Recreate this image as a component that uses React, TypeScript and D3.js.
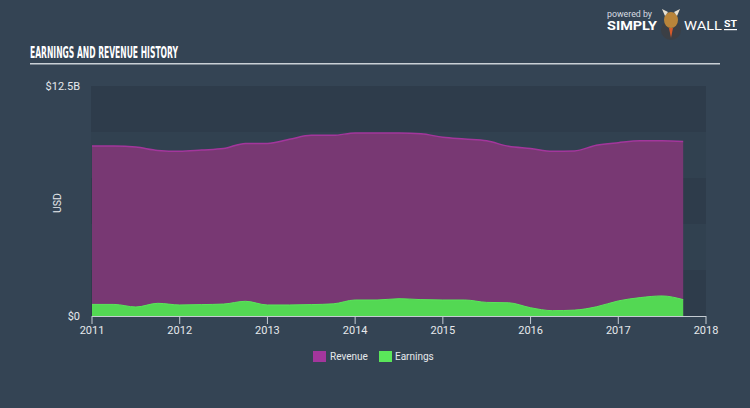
import React from "react";
import * as d3 from "d3";

const quarters: number[] = [
  2011.0, 2011.25, 2011.5, 2011.75, 2012.0, 2012.25, 2012.5, 2012.75,
  2013.0, 2013.25, 2013.5, 2013.75, 2014.0, 2014.25, 2014.5, 2014.75,
  2015.0, 2015.25, 2015.5, 2015.75, 2016.0, 2016.25, 2016.5, 2016.75,
  2017.0, 2017.25, 2017.5, 2017.74,
];
const revenue: number[] = [
  9.24, 9.24, 9.18, 9.0, 8.95, 9.02, 9.1, 9.38,
  9.38, 9.6, 9.82, 9.82, 9.95, 9.95, 9.95, 9.9,
  9.72, 9.62, 9.52, 9.22, 9.1, 8.95, 8.97, 9.28,
  9.42, 9.52, 9.52, 9.49,
];
const earnings: number[] = [
  0.63, 0.63, 0.49, 0.69, 0.6, 0.62, 0.65, 0.8,
  0.6, 0.6, 0.62, 0.66, 0.87, 0.87, 0.94, 0.89,
  0.87, 0.87, 0.74, 0.72, 0.45, 0.29, 0.32, 0.5,
  0.82, 1.0, 1.09, 0.89,
];
const yearTicks: number[] = [2011, 2012, 2013, 2014, 2015, 2016, 2017, 2018];
const yTickLabels: { v: number; label: string }[] = [
  { v: 0, label: "$0" },
  { v: 12.5, label: "$12.5B" },
];
const bandEdges: number[] = [0, 2.5, 5, 7.5, 10, 12.5];

export default function App() {
  const W = 750, H = 408;
  const x = d3.scaleLinear().domain([2011, 2018]).range([92, 706]);
  const y = d3.scaleLinear().domain([0, 12.5]).range([316, 86]);

  const revData = quarters.map((q, i) => ({ q, v: revenue[i] }));
  const earnData = quarters.map((q, i) => ({ q, v: earnings[i] }));

  const area = d3
    .area<{ q: number; v: number }>()
    .x((d) => x(d.q))
    .y0(y(0))
    .y1((d) => y(d.v))
    .curve(d3.curveMonotoneX);
  const line = d3
    .line<{ q: number; v: number }>()
    .x((d) => x(d.q))
    .y((d) => y(d.v))
    .curve(d3.curveMonotoneX);

  const font = "Roboto, 'Open Sans', sans-serif";

  return (
    <svg
      width={W}
      height={H}
      style={{ position: "absolute", left: 0, top: 0, display: "block" }}
    >
      <rect x={0} y={0} width={W} height={H} fill="#344454" />
      {/* logo */}
      <text x={607} y={17} fill="#d8dde2" fontSize={8.5} fontFamily={font} textLength={45} lengthAdjust="spacingAndGlyphs">
        powered by
      </text>
      <text x={607} y={30} fill="#ffffff" fontSize={12} fontWeight="bold" fontFamily={font} textLength={50} lengthAdjust="spacingAndGlyphs">
        SIMPLY
      </text>
      <g>
        <ellipse cx={671} cy={30} rx={10} ry={10} fill="#3b3f45" />
        <ellipse cx={671} cy={20} rx={7} ry={8} fill="#b8843a" />
        <path d="M662 9 L665 16 L668 12 Z M680 9 L677 16 L674 12 Z" fill="#e8e0d0" />
        <path d="M669 28 L671 38 L673 28 Z" fill="#d65a2a" />
      </g>
      <text x={684} y={30} fill="#ffffff" fontSize={12} fontFamily={font} textLength={38} lengthAdjust="spacingAndGlyphs">
        WALL
      </text>
      <text x={724} y={27} fill="#ffffff" fontSize={9.5} fontWeight="bold" fontFamily={font} textLength={13} lengthAdjust="spacingAndGlyphs">
        ST
      </text>
      <rect x={724} y={29} width={13} height={1.2} fill="#ffffff" />

      {/* title */}
      <text
        x={30}
        y={58}
        fill="#ffffff"
        fontSize={15}
        fontWeight="bold"
        fontFamily="'Liberation Sans Narrow', 'DejaVu Sans Condensed', sans-serif"
        textLength={148}
        lengthAdjust="spacingAndGlyphs"
      >
        EARNINGS AND REVENUE HISTORY
      </text>
      <rect x={30} y={63} width={690} height={1.5} fill="#c9d0d6" />

      {/* plot bands */}
      {bandEdges.slice(0, -1).map((b, i) => (
        <rect
          key={i}
          x={91}
          y={y(bandEdges[i + 1])}
          width={706 - 91}
          height={y(b) - y(bandEdges[i + 1])}
          fill={i % 2 === 0 ? "#2e3c4b" : "#314150"}
        />
      ))}

      {/* areas */}
      <path d={area(revData) || ""} fill="#783873" />
      <path d={line(revData) || ""} fill="none" stroke="#a3369c" strokeWidth={1.5} />
      <path d={area(earnData) || ""} fill="#53d853" />
      <path d={line(earnData) || ""} fill="none" stroke="#5ae65a" strokeWidth={1} />

      {/* x axis */}
      <line x1={x(2011)} x2={x(2018)} y1={316.5} y2={316.5} stroke="#c5ccd3" strokeWidth={1} />
      {yearTicks.map((t) => (
        <g key={t}>
          <line x1={x(t)} x2={x(t)} y1={316} y2={324} stroke="#c5ccd3" strokeWidth={1} />
          <text
            x={x(t)}
            y={334}
            fill="#e6e9ec"
            fontSize={11}
            textAnchor="middle"
            fontFamily={font}
          >
            {t}
          </text>
        </g>
      ))}

      {/* y labels */}
      {yTickLabels.map((t) => (
        <text
          key={t.label}
          x={80}
          y={y(t.v) + 4}
          fill="#e6e9ec"
          fontSize={11}
          textAnchor="end"
          fontFamily={font}
        >
          {t.label}
        </text>
      ))}
      <text
        x={0}
        y={0}
        transform="translate(61,203) rotate(-90)"
        fill="#e6e9ec"
        fontSize={10.5}
        textAnchor="middle"
        fontFamily={font}
      >
        USD
      </text>

      {/* legend */}
      <rect x={313} y={351} width={13} height={11} fill="#a3369c" />
      <text x={330} y={360} fill="#e6e9ec" fontSize={10} fontFamily={font}>
        Revenue
      </text>
      <rect x={379} y={351} width={13} height={11} fill="#5ae65a" />
      <text x={395} y={360} fill="#e6e9ec" fontSize={10} fontFamily={font}>
        Earnings
      </text>
    </svg>
  );
}
